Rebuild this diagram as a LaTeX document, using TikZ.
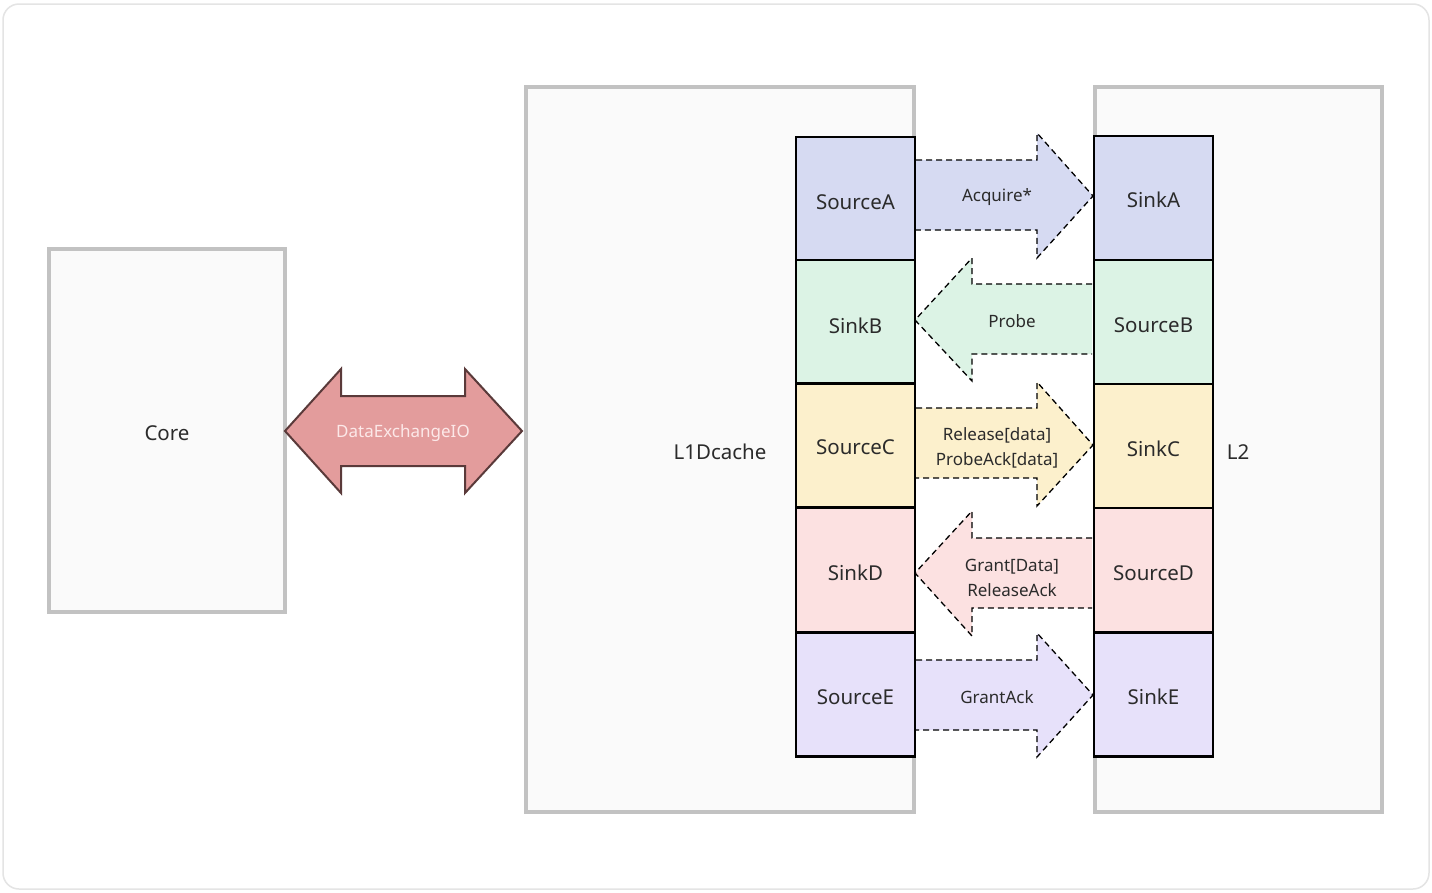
\documentclass[tikz,border=0pt]{standalone}
\usepackage{fontspec}
\setmainfont{Noto Sans}
\definecolor{frame}{HTML}{C2C2C2}
\definecolor{boxbg}{HTML}{FAFAFA}
\definecolor{txt}{HTML}{2B2B2B}
\definecolor{cA}{HTML}{D6DAF2}
\definecolor{cB}{HTML}{DCF3E5}
\definecolor{cC}{HTML}{FCF0CC}
\definecolor{cD}{HTML}{FCE1E1}
\definecolor{cE}{HTML}{E7E1FA}
\definecolor{dxfill}{HTML}{E39C9C}
\definecolor{dxline}{HTML}{5A3A3A}
\definecolor{dxtxt}{HTML}{FCE8E8}
\definecolor{outer}{HTML}{E4E4E4}
\tikzset{
  bigbox/.style={draw=frame, line width=4pt, fill=boxbg},
  chan/.style={draw=black, line width=2.5pt, minimum width=119pt, minimum height=124pt, inner sep=0pt, font=\fontsize{20.5}{24}\selectfont, text=txt},
  chantxt/.style={font=\fontsize{20.5}{24}\selectfont, text=txt},
  flow/.style={draw=black, line width=1.3pt, dash pattern=on 6pt off 4pt},
  flowtxt/.style={font=\fontsize{17}{25}\selectfont, text=txt, align=center},
  lbl/.style={font=\fontsize{20.5}{24}\selectfont, text=txt},
}
\begin{document}
\begin{tikzpicture}[x=1pt,y=-1pt]
\useasboundingbox (0,0) rectangle (1432,892);
\fill[white] (0,0) rectangle (1432,892);
\draw[outer, line width=1.5pt, rounded corners=16pt] (3,4) rectangle (1429,889);
% big boxes
\draw[bigbox] (49,249) rectangle (285,612);
\draw[bigbox] (526,87) rectangle (914,812);
\draw[bigbox] (1095,87) rectangle (1382,812);
\node[lbl] (core) at (167,433) {Core};
\node[lbl] (l1) at (720,452) {L1Dcache};
\node[lbl] (l2) at (1238,452) {L2};
% DataExchangeIO double arrow
\draw[fill=dxfill, draw=dxline, line width=2pt, line join=miter]
  (285,431) -- (341,369) -- (341,396) -- (465,396) -- (465,369) -- (522,431)
  -- (465,493) -- (465,466) -- (341,466) -- (341,493) -- cycle;
\node[font=\fontsize{17}{20}\selectfont, text=dxtxt] (dx) at (403,433) {DataExchangeIO};
% arrows between channels
% Acquire (right)
\draw[flow, fill=cA] (916,160) -- (1037,160) -- (1037,133) -- (1093,196) -- (1037,258) -- (1037,230) -- (916,230);
\node[flowtxt] (acq) at (997,197) {Acquire*};
% Probe (left)
\draw[flow, fill=cB] (1092,284) -- (972,284) -- (972,258) -- (915,320) -- (972,381) -- (972,354) -- (1092,354);
\node[flowtxt] (prb) at (1012,321) {Probe};
% Release (right)
\draw[flow, fill=cC] (916,408) -- (1037,408) -- (1037,382) -- (1093,445) -- (1037,506) -- (1037,478) -- (916,478);
\node[flowtxt] (rel) at (997,448) {Release[data]\\ProbeAck[data]};
% Grant (left)
\draw[flow, fill=cD] (1092,538) -- (972,538) -- (972,511) -- (915,573) -- (972,636) -- (972,608) -- (1092,608);
\node[flowtxt] (gnt) at (1012,578) {Grant[Data]\\ReleaseAck};
% GrantAck (right)
\draw[flow, fill=cE] (916,660) -- (1037,660) -- (1037,633) -- (1093,695) -- (1037,757) -- (1037,730) -- (916,730);
\node[flowtxt] (gak) at (997,697) {GrantAck};
% channel boxes left
\node[chan, fill=cA] (srcA) at (855.5,199) {};
\node[chan, fill=cB] (snkB) at (855.5,322) {};
\node[chan, fill=cC] (srcC) at (855.5,445.5) {};
\node[chan, fill=cD] (snkD) at (855.5,570) {};
\node[chan, fill=cE] (srcE) at (855.5,694.5) {};
% channel boxes right
\node[chan, fill=cA] (snkA) at (1153.5,198) {};
\node[chan, fill=cB] (srcB) at (1153.5,322) {};
\node[chan, fill=cC] (snkC) at (1153.5,446) {};
\node[chan, fill=cD] (srcD) at (1153.5,570) {};
\node[chan, fill=cE] (snkE) at (1153.5,694.5) {};
% channel labels
\node[chantxt] (tA) at (855.5,202) {SourceA};
\node[chantxt] (tB) at (855.5,326) {SinkB};
\node[chantxt] (tC) at (855.5,447) {SourceC};
\node[chantxt] (tD) at (855.5,573) {SinkD};
\node[chantxt] (tE) at (855.5,697) {SourceE};
\node[chantxt] (uA) at (1153.5,200) {SinkA};
\node[chantxt] (uB) at (1153.5,325) {SourceB};
\node[chantxt] (uC) at (1153.5,449) {SinkC};
\node[chantxt] (uD) at (1153.5,573) {SourceD};
\node[chantxt] (uE) at (1153.5,697) {SinkE};
\end{tikzpicture}
\end{document}
